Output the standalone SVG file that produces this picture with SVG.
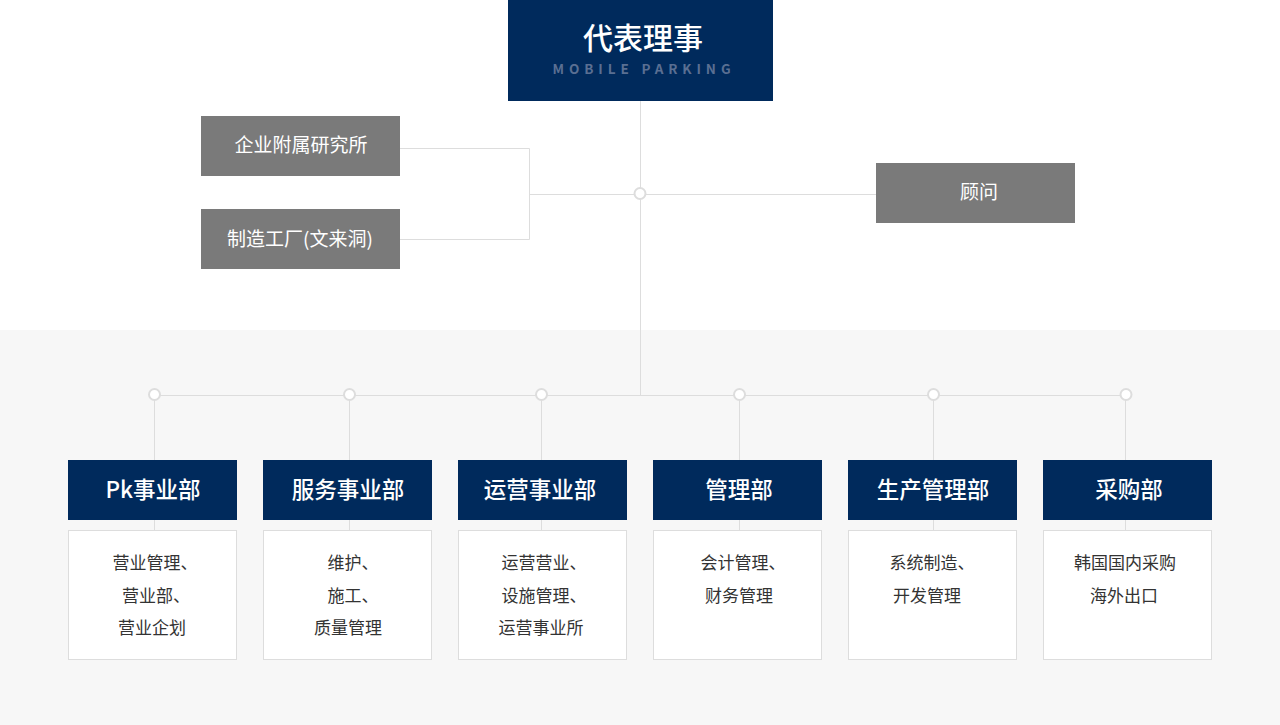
<svg xmlns="http://www.w3.org/2000/svg" width="1280" height="725" viewBox="0 0 1280 725">
<style>
.bg{fill:#f7f7f7}
.ln{stroke:#dddddd;stroke-width:1;fill:none}
.dot{fill:#ffffff;stroke:#dddddd;stroke-width:2}
.top{fill:#002a5c}
.gray{fill:#7a7a7a}
.hd{fill:#002a5c}
.det{fill:#ffffff;stroke:#dddddd;stroke-width:1}
text{font-family:"Noto Sans CJK SC","Noto Sans CJK KR",sans-serif;text-anchor:middle}
.t1{fill:#ffffff;font-size:30px;font-weight:500}
.t2{fill:#5a6f92;font-size:13.5px;font-weight:700;letter-spacing:4.9px}
.tg{fill:#ffffff;font-size:19px}
.th{fill:#ffffff;font-size:22.5px;font-weight:500}
.td{fill:#333333;font-size:17px}
</style>
<rect x="0" y="0" width="1280" height="725" fill="#ffffff"/>
<rect class="bg" x="0" y="330" width="1280" height="395"/>
<g id="connectors">
<path class="ln" d="M640.5 101V395.5"/>
<path class="ln" d="M400 148.5H529.5V239.5H400"/>
<path class="ln" d="M529.5 194.5H876"/>
<path class="ln" d="M154.5 395.5H1126"/>
<path class="ln" d="M154.5 395V530M349.5 395V530M541.5 395V530M739.5 395V530M933.5 395V530M1125.5 395V530"/>
<circle class="dot" cx="640" cy="193.5" r="5.5"/>
<circle class="dot" cx="154.5" cy="394.5" r="5.5"/>
<circle class="dot" cx="349.5" cy="394.5" r="5.5"/>
<circle class="dot" cx="541.5" cy="394.5" r="5.5"/>
<circle class="dot" cx="739.5" cy="394.5" r="5.5"/>
<circle class="dot" cx="933.5" cy="394.5" r="5.5"/>
<circle class="dot" cx="1126" cy="394.5" r="5.5"/>
</g>
<g id="ceo">
<rect class="top" x="508" y="0" width="265" height="101"/>
<text class="t1" x="643" y="49">代表理事</text>
<text class="t2" x="644" y="74">MOBILE PARKING</text>
</g>
<g id="lab">
<rect class="gray" x="201" y="116" width="199" height="60"/>
<text class="tg" x="301" y="152">企业附属研究所</text>
</g>
<g id="factory">
<rect class="gray" x="201" y="209" width="199" height="60"/>
<text class="tg" x="300" y="246">制造工厂(文来洞)</text>
</g>
<g id="advisor">
<rect class="gray" x="876" y="163" width="199" height="60"/>
<text class="tg" x="979" y="199">顾问</text>
</g>
<g id="pk">
<rect class="hd" x="68" y="460" width="169" height="60"/>
<text class="th" x="153" y="498">Pk事业部</text>
<rect class="det" x="68.5" y="530.5" width="168" height="129"/>
<text class="td" x="155" y="569">营业管理、</text>
<text class="td" x="156" y="602">营业部、</text>
<text class="td" x="152" y="634">营业企划</text>
</g>
<g id="service">
<rect class="hd" x="263" y="460" width="169" height="60"/>
<text class="th" x="348" y="498">服务事业部</text>
<rect class="det" x="263.5" y="530.5" width="168" height="129"/>
<text class="td" x="353" y="569">维护、</text>
<text class="td" x="353" y="602">施工、</text>
<text class="td" x="348" y="634">质量管理</text>
</g>
<g id="operation">
<rect class="hd" x="458" y="460" width="169" height="60"/>
<text class="th" x="540" y="498">运营事业部</text>
<rect class="det" x="458.5" y="530.5" width="168" height="129"/>
<text class="td" x="544" y="569">运营营业、</text>
<text class="td" x="544" y="602">设施管理、</text>
<text class="td" x="541" y="634">运营事业所</text>
</g>
<g id="management">
<rect class="hd" x="653" y="460" width="169" height="60"/>
<text class="th" x="739" y="498">管理部</text>
<rect class="det" x="653.5" y="530.5" width="168" height="129"/>
<text class="td" x="743" y="569">会计管理、</text>
<text class="td" x="739" y="602">财务管理</text>
</g>
<g id="production">
<rect class="hd" x="848" y="460" width="169" height="60"/>
<text class="th" x="933" y="498">生产管理部</text>
<rect class="det" x="848.5" y="530.5" width="168" height="129"/>
<text class="td" x="932" y="569">系统制造、</text>
<text class="td" x="927" y="602">开发管理</text>
</g>
<g id="purchase">
<rect class="hd" x="1043" y="460" width="169" height="60"/>
<text class="th" x="1129" y="498">采购部</text>
<rect class="det" x="1043.5" y="530.5" width="168" height="129"/>
<text class="td" x="1125" y="569">韩国国内采购</text>
<text class="td" x="1124" y="602">海外出口</text>
</g>
</svg>
